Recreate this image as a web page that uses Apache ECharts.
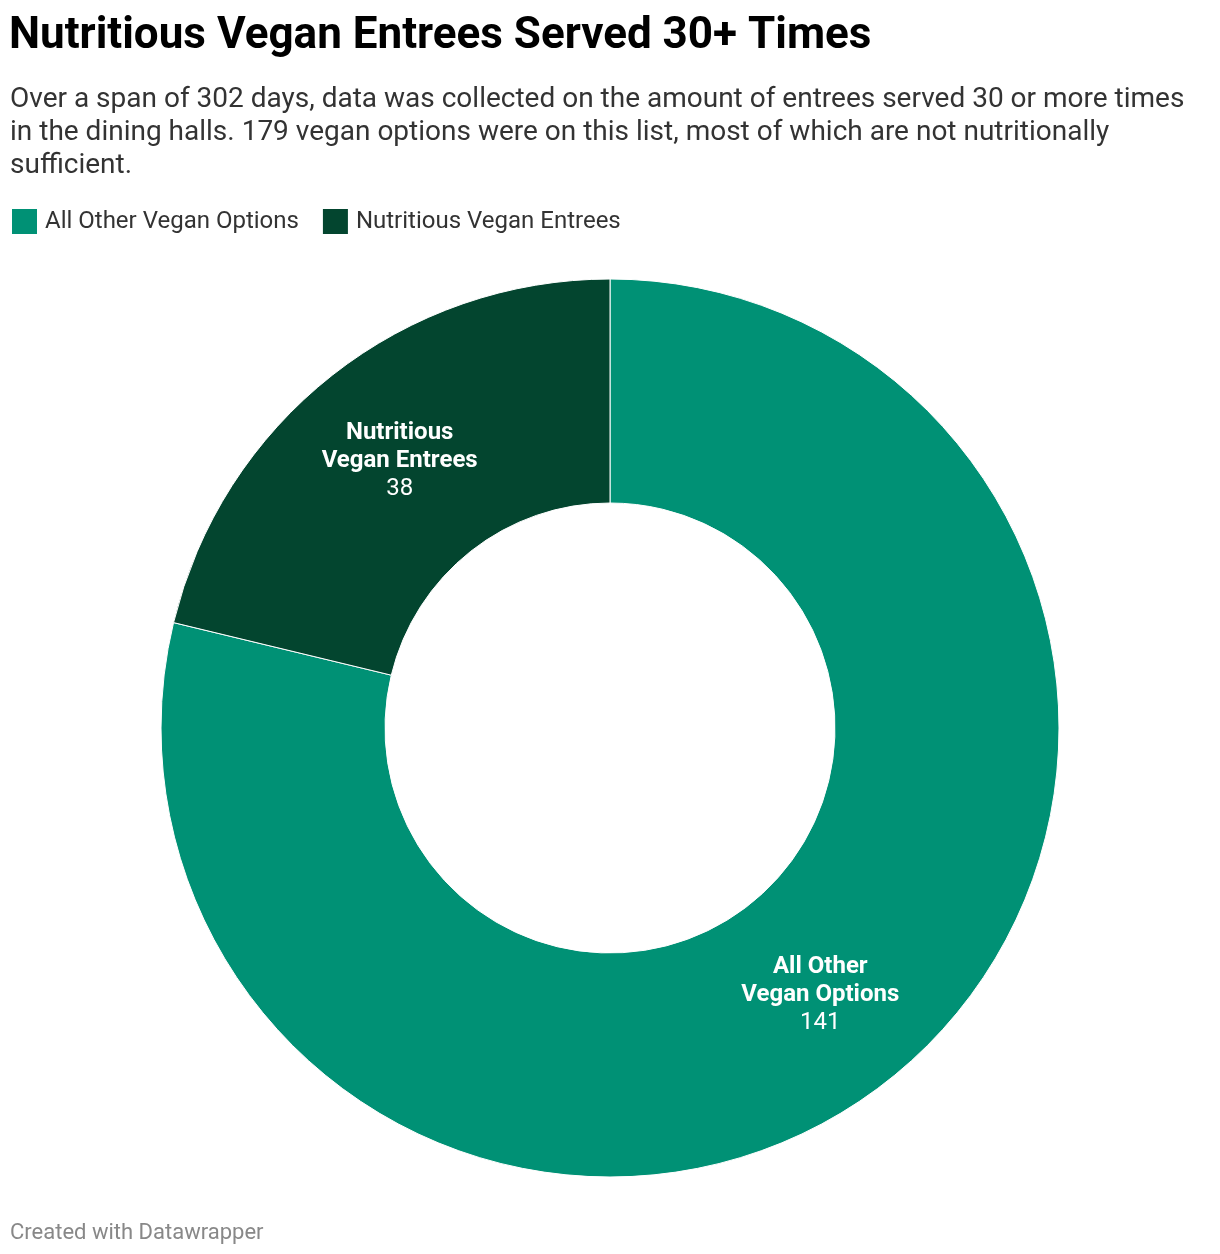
<!DOCTYPE html>
<html>
<head>
<meta charset="utf-8">
<script src="https://cdn.jsdelivr.net/npm/echarts@6/dist/echarts.min.js"></script>
<style>
html,body{margin:0;padding:0;background:#fff;}
#chart{width:1220px;height:1254px;}
</style>
</head>
<body>
<div id="chart"></div>
<script>
const categories = ["All Other Vegan Options", "Nutritious Vegan Entrees"];
const values = [141, 38];
const labelNames = ["All Other\nVegan Options", "Nutritious\nVegan Entrees"];
const colors = ["#009175", "#03452f"];

const titleText = "Nutritious Vegan Entrees Served 30+ Times";
const subtitleLines = [
  "Over a span of 302 days, data was collected on the amount of entrees served 30 or more times",
  "in the dining halls. 179 vegan options were on this list, most of which are not nutritionally",
  "sufficient."
];
const footerText = "Created with Datawrapper";

const chart = echarts.init(document.getElementById('chart'), null, {renderer: 'canvas'});
const font = 'Roboto, "Noto Sans", sans-serif';

chart.setOption({
  animation: false,
  backgroundColor: '#ffffff',
  color: colors,
  graphic: [
    {
      type: 'text', left: 9, top: 15,
      style: {text: titleText, font: 'bold 44px ' + font, fill: '#000'}
    },
    {
      type: 'text', left: 10, top: 83,
      style: {text: subtitleLines.join('\n'), font: '28px ' + font, fill: '#333', lineHeight: 33}
    },
    {
      type: 'text', left: 10, top: 1222,
      style: {text: footerText, font: '22px ' + font, fill: '#888'}
    }
  ],
  legend: {
    left: 10,
    top: 207,
    padding: 0,
    itemWidth: 27,
    itemHeight: 27,
    itemGap: 22,
    icon: 'rect',
    textStyle: {fontFamily: font, fontSize: 24, color: '#333', padding: [0, 0, 0, 2]},
    data: categories
  },
  series: [{
    type: 'pie',
    center: [610, 728],
    radius: [225, 449],
    startAngle: 90,
    clockwise: true,
    silent: true,
    itemStyle: {borderColor: '#ffffff', borderWidth: 1},
    label: {
      show: true,
      position: 'inside',
      fontFamily: font,
      formatter: function (p) {
        return '{n|' + labelNames[p.dataIndex].split('\n').join('}\n{n|') + '}\n{v|' + p.value + '}';
      },
      rich: {
        n: {fontFamily: font, fontSize: 24, fontWeight: 'bold', color: '#fff', lineHeight: 28},
        v: {fontFamily: font, fontSize: 24, color: '#fff', lineHeight: 28}
      }
    },
    labelLine: {show: false},
    data: categories.map((c, i) => ({name: c, value: values[i]}))
  }]
});
</script>
</body>
</html>
